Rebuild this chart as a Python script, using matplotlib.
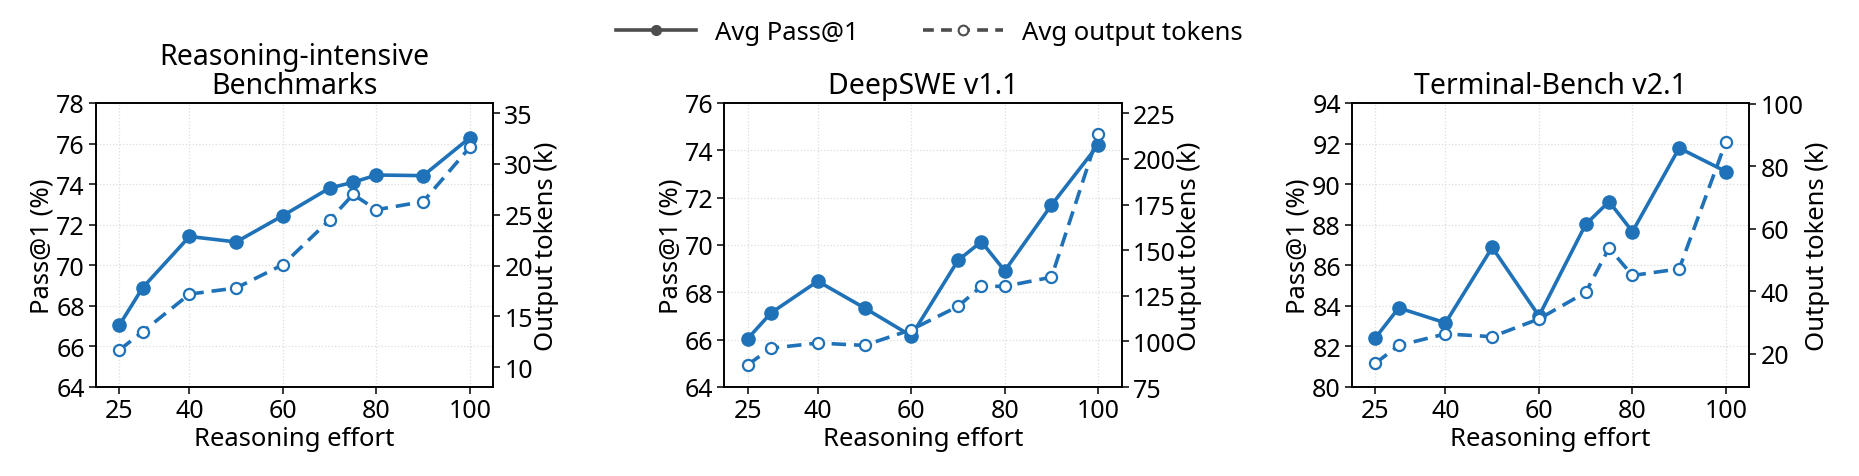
import matplotlib
matplotlib.use("Agg")
import matplotlib.pyplot as plt
from matplotlib.lines import Line2D

plt.rcParams['font.family'] = ['Noto Sans', 'DejaVu Sans']

effort = [25, 30, 40, 50, 60, 70, 75, 80, 90, 100]
xticks = [25, 40, 60, 80, 100]

titles = ["Reasoning-intensive\nBenchmarks", "DeepSWE v1.1", "Terminal-Bench v2.1"]

pass_reasoning = [67.05, 68.9, 71.42, 71.15, 72.45, 73.81, 74.09, 74.45, 74.42, 76.29]
tokens_reasoning = [11.7, 13.5, 17.2, 17.8, 20.1, 24.5, 27.0, 25.5, 26.3, 31.65]

pass_deepswe = [66.04, 67.13, 68.47, 67.34, 66.16, 69.35, 70.14, 68.91, 71.69, 74.23]
tokens_deepswe = [87.2, 96.3, 99.1, 97.8, 106.4, 119.2, 130.2, 130.2, 135.2, 213.6]

pass_terminal = [82.42, 83.9, 83.16, 86.88, 83.5, 88.02, 89.14, 87.66, 91.78, 90.62]
tokens_terminal = [17.0, 22.7, 26.4, 25.5, 31.2, 39.7, 53.9, 45.1, 47.2, 87.9]

passes = [pass_reasoning, pass_deepswe, pass_terminal]
tokens = [tokens_reasoning, tokens_deepswe, tokens_terminal]

left_lims = [(64, 78), (64, 76), (80, 94)]
left_ticks = [list(range(64, 79, 2)), list(range(64, 77, 2)), list(range(80, 95, 2))]
right_lims = [(8.06, 36.0), (75, 230.7), (9.4, 100.3)]
right_ticks = [list(range(10, 36, 5)), list(range(75, 226, 25)), list(range(20, 101, 20))]

color = '#1f72b8'
W, H = 1859, 477
fig = plt.figure(figsize=(W / 100, H / 100), dpi=100)

lefts_px = [96, 724.3, 1352]
width_px = 397.3
bottom = 1 - 388 / H
height = 284 / H

TICK_FS = 18
LABEL_FS = 18.5
for i in range(3):
    ax = fig.add_axes([lefts_px[i] / W, bottom, width_px / W, height])
    ax2 = ax.twinx()
    ax.plot(effort, passes[i], '-o', color=color, lw=2.6, ms=9.5, zorder=3)
    ax2.plot(effort, tokens[i], '--o', color=color, lw=2.6, ms=8,
             mfc='white', mec=color, mew=1.6, dashes=(4, 2.2), zorder=3)
    ax.set_xlim(20, 105)
    ax.set_xticks(xticks)
    ax.set_ylim(*left_lims[i])
    ax.set_yticks(left_ticks[i])
    ax2.set_ylim(*right_lims[i])
    ax2.set_yticks(right_ticks[i])
    ax.grid(True, linestyle=':', color='#dddddd', lw=0.9)
    ax.set_axisbelow(True)
    ax.tick_params(labelsize=TICK_FS, length=5, width=1.1, pad=3)
    ax2.tick_params(labelsize=TICK_FS, length=5, width=1.1, pad=3)
    ax.set_xlabel("Reasoning effort", fontsize=LABEL_FS, labelpad=2)
    ax.set_ylabel("Pass@1 (%)", fontsize=LABEL_FS, labelpad=1)
    ax2.set_ylabel("Output tokens (k)", fontsize=LABEL_FS, labelpad=1)
    ax.set_title(titles[i], fontsize=20.5, pad=7, linespacing=1.0)
    for sp in list(ax.spines.values()) + list(ax2.spines.values()):
        sp.set_linewidth(1.2)

handles = [
    Line2D([], [], color='#4d4d4d', lw=2.6, marker='o', ms=7, ls='-'),
    Line2D([], [], color='#4d4d4d', lw=2.6, marker='o', ms=7, ls='--',
           mfc='white', mec='#4d4d4d', mew=1.5, dashes=(3, 2)),
]
fig.legend(handles, ["Avg Pass@1", "Avg output tokens"], loc='center',
           bbox_to_anchor=(0.5, 1 - 33 / H), ncol=2, frameon=False,
           fontsize=18.5, handlelength=3.1, columnspacing=2.5, handletextpad=0.75)

fig.savefig("out.png", dpi=100)
